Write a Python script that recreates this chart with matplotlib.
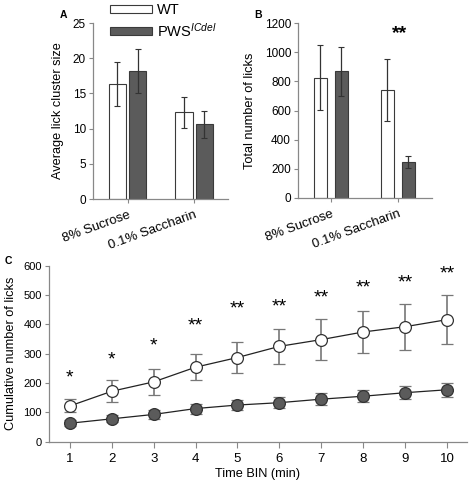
import matplotlib
matplotlib.use("Agg")
import matplotlib.pyplot as plt
from matplotlib.patches import Patch
import numpy as np

plt.rcParams['font.family'] = ['Liberation Sans', 'DejaVu Sans']
plt.rcParams['mathtext.fontset'] = 'custom'
plt.rcParams['mathtext.it'] = 'Liberation Sans:italic'
plt.rcParams['mathtext.rm'] = 'Liberation Sans'

# panel A / B data
solutions = ['8% Sucrose', '0.1% Saccharin']
cluster_wt = [16.3, 12.3]
cluster_wt_err = [3.1, 2.2]
cluster_pws = [18.2, 10.6]
cluster_pws_err = [3.1, 1.95]
licks_wt = [825, 740]
licks_wt_err = [224, 210]
licks_pws = [870, 250]
licks_pws_err = [168, 41]
licks_star_y = [None, 1130]
licks_star = ['', '**']

# panel C data
bins = [1, 2, 3, 4, 5, 6, 7, 8, 9, 10]
cum_wt = [122, 172, 204, 254, 287, 325, 348, 374, 392, 416]
cum_wt_err = [22, 37, 45, 45, 52, 60, 70, 73, 78, 84]
cum_pws = [63, 78, 93, 113, 125, 133, 145, 155, 167, 177]
cum_pws_err = [10, 12, 14, 17, 18, 19, 20, 21, 22, 24]
stars = ['*', '*', '*', '**', '**', '**', '**', '**', '**', '**']
star_y = [216, 277, 328, 395, 452, 460, 490, 524, 541, 571]

WT_FACE = 'white'
PWS_FACE = '#5b5b5b'
EDGE = '#3a3a3a'
SPINE = '#888888'

fig = plt.figure(figsize=(4.69, 4.82), dpi=100)


def style(ax):
    for s in ['top', 'right']:
        ax.spines[s].set_visible(False)
    for s in ['left', 'bottom']:
        ax.spines[s].set_color(SPINE)
        ax.spines[s].set_linewidth(0.9)
    ax.tick_params(direction='out', length=3, width=0.8, color=SPINE,
                   labelsize=8.5, pad=2)


def bars(ax, wt, wt_err, pws, pws_err, width, off):
    x = np.arange(len(solutions))
    ekw = dict(ecolor='#333333', elinewidth=0.9, capsize=2, capthick=0.8)
    ax.bar(x - off, wt, width, yerr=wt_err, color=WT_FACE, edgecolor=EDGE,
           linewidth=0.8, error_kw=ekw, label='WT')
    ax.bar(x + off, pws, width, yerr=pws_err, color=PWS_FACE, edgecolor=EDGE,
           linewidth=0.8, error_kw=ekw, label=r'PWS$^{\it{ICdel}}$')
    ax.set_xticks(x)
    ax.set_xticklabels(solutions, rotation=20, ha='right',
                       rotation_mode='anchor', fontsize=9.5)
    ax.tick_params(axis='x', pad=4)


# Panel A
axA = fig.add_axes([93 / 469, 1 - 199 / 482, 135 / 469, 176 / 482])
style(axA)
bars(axA, cluster_wt, cluster_wt_err, cluster_pws, cluster_pws_err, 0.26, 0.152)
axA.set_xlim(-0.52, 1.51)
axA.set_ylim(0, 25)
axA.set_yticks([0, 5, 10, 15, 20, 25])
axA.set_ylabel('Average lick cluster size', fontsize=9.2, labelpad=6)

# Panel B
axB = fig.add_axes([298 / 469, 1 - 198 / 482, 134 / 469, 175 / 482])
style(axB)
bars(axB, licks_wt, licks_wt_err, licks_pws, licks_pws_err, 0.19, 0.155)
axB.set_xlim(-0.49, 1.51)
axB.set_ylim(0, 1200)
axB.set_yticks(range(0, 1201, 200))
axB.set_ylabel('Total number of licks', fontsize=9.2, labelpad=6)
for i, (y, s) in enumerate(zip(licks_star_y, licks_star)):
    if y is not None:
        axB.text(i + 0.02, y, s, ha='center', va='center', fontsize=14,
                 fontweight='bold')

# Panel C
axC = fig.add_axes([49 / 469, 1 - 441.7 / 482, 418 / 469, 176 / 482])
style(axC)
ekw = dict(ecolor='#777777', elinewidth=1.2, capsize=4, capthick=1.2)
axC.errorbar(bins, cum_wt, yerr=cum_wt_err, color='#222222', lw=0.9,
             marker='o', ms=8.5, mfc='white', mec='#333333', mew=0.9, **ekw)
axC.errorbar(bins, cum_pws, yerr=cum_pws_err, color='#222222', lw=0.9,
             marker='o', ms=8.5, mfc=PWS_FACE, mec='#333333', mew=0.9, **ekw)
for b, s, y in zip(bins, stars, star_y):
    axC.text(b, y, s, ha='center', va='center', fontsize=14)
axC.set_xlim(0.5, 10.48)
axC.set_ylim(0, 600)
axC.set_xticks(bins)
axC.set_yticks(range(0, 601, 100))
axC.tick_params(axis='x', length=4, labelsize=9.5, pad=4)
axC.tick_params(axis='y', labelsize=8)
axC.set_xlabel('Time BIN (min)', fontsize=9.2, labelpad=2)
axC.set_ylabel('Cumulative number of licks', fontsize=9.2, labelpad=5)

# legend
handles = [Patch(facecolor=WT_FACE, edgecolor=EDGE, linewidth=0.8, label='WT'),
           Patch(facecolor=PWS_FACE, edgecolor=EDGE, linewidth=0.8,
                 label=r'PWS$^{\it{ICdel}}$')]
fig.legend(handles=handles, loc='upper left', bbox_to_anchor=(104 / 469, 1.006),
           frameon=False, fontsize=10.5, handlelength=2.9, handleheight=0.45,
           handletextpad=0.35, labelspacing=0.3, borderaxespad=0)

# panel letters
fig.text(63 / 469, 1 - 15 / 482, 'A', fontsize=7.5, fontweight='bold',
         va='center', ha='center')
fig.text(258 / 469, 1 - 15 / 482, 'B', fontsize=7.5, fontweight='bold',
         va='center', ha='center')
fig.text(8 / 469, 1 - 261 / 482, 'C', fontsize=7.5, fontweight='bold',
         va='center', ha='center')

fig.savefig('out.png', dpi=100)
